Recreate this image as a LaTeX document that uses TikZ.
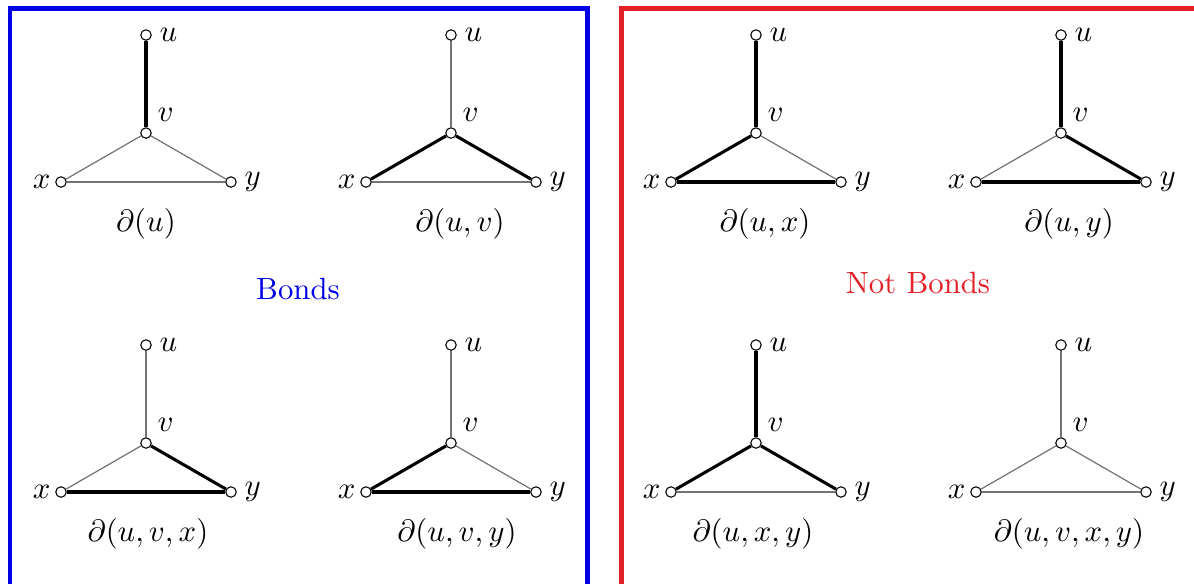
\documentclass[tikz,border=0pt]{standalone}
\usepackage{xcolor}
\usepackage{tikz}
\usetikzlibrary{positioning}
\definecolor{bondblue}{RGB}{0,0,230}
\definecolor{notred}{RGB}{228,32,40}

\begin{document}
\begin{tikzpicture}[x=0.325pt,y=-0.325pt,
  vert/.style={circle,draw,fill=white,inner sep=0pt,minimum size=3.4pt,line width=0.35pt},
  heavy/.style={line width=1pt,black},
  light/.style={line width=0.4pt,black!55},
  frame/.style={line width=1.6pt}]
\clip (0,0) rectangle (1194,583);
\draw[frame,bondblue] (10,600) |- (587.5,8.5) -- (587.5,600);
\draw[frame,notred] (621.5,600) |- (1210,8.5);

\foreach \g/\gx/\gy/\uv/\vx/\vy/\xy/\lx/\lbl in {
  a/146/0/heavy/light/light/light/146/{$\partial(u)$},
  b/451/0/light/heavy/heavy/light/460/{$\partial(u,v)$},
  c/756/0/heavy/heavy/light/heavy/765/{$\partial(u,x)$},
  d/1061/0/heavy/light/heavy/heavy/1069/{$\partial(u,y)$},
  e/146/310/light/light/heavy/heavy/148/{$\partial(u,v,x)$},
  f/451/310/light/heavy/light/heavy/457/{$\partial(u,v,y)$},
  g/756/310/heavy/heavy/heavy/light/753/{$\partial(u,x,y)$},
  h/1061/310/light/light/light/light/1069/{$\partial(u,v,x,y)$}}{
  \node[vert,label={[label distance=-1pt]right:$u$}] (\g-u) at (\gx,\gy+35) {};
  \node[vert,label={[label distance=-1.5pt]above right:$v$}] (\g-v) at (\gx,\gy+133) {};
  \node[vert,label={[label distance=-2pt]left:$x$}] (\g-x) at (\gx-85,\gy+182) {};
  \node[vert,label={[label distance=-1pt]right:$y$}] (\g-y) at (\gx+85,\gy+182) {};
  \node (\g-lbl) at (\lx,\gy+224) {\lbl};
  \draw[\uv] (\g-u) -- (\g-v);
  \draw[\vx] (\g-v) -- (\g-x);
  \draw[\vy] (\g-v) -- (\g-y);
  \draw[\xy] (\g-x) -- (\g-y);
}

\node[text=bondblue] (bonds) at (298,289) {Bonds};
\node[text=notred] (notbonds) at (918,283) {Not Bonds};
\end{tikzpicture}
\end{document}
